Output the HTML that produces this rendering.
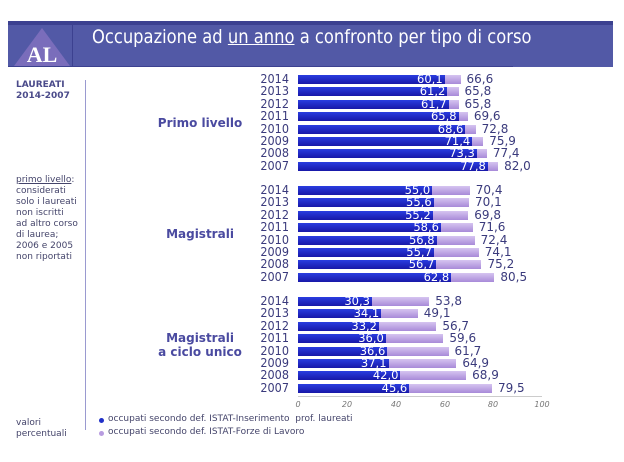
<!DOCTYPE html><html><head><meta charset="utf-8"><style>
body{margin:0;width:624px;height:462px;background:#fff;position:relative;overflow:hidden;font-family:"DejaVu Sans","Liberation Sans",sans-serif}
.hdr{position:absolute;left:8px;top:21px;width:505px;height:46px;background:#5259a6;border-top:4px solid #3c4190;border-bottom:1px solid #3c4190;box-sizing:border-box}
.hdr2{position:absolute;left:513px;top:21px;width:100px;height:46px;background:#5259a6;border-top:4px solid #3c4190;box-sizing:border-box}
.sep{position:absolute;left:72px;top:21px;width:1px;height:46px;background:#3c4190}
.title{position:absolute;left:92px;top:26px;color:#fff;font-size:19px;font-family:"DejaVu Sans",sans-serif;transform:scaleX(0.86);transform-origin:left;white-space:nowrap}
.yr{position:absolute;width:45px;left:244px;text-align:right;font-size:12.5px;color:#3a3a7c;line-height:12px;transform:scaleX(0.9);transform-origin:right}
.g{position:absolute;text-align:center;font-size:12px;color:#4a4aa0;font-weight:bold;width:120px;left:140px}
.b1{position:absolute;left:298px;height:9px;background:linear-gradient(180deg,#2a3de0,#1818a8)}
.b2{position:absolute;left:298px;height:9px;background:linear-gradient(180deg,#d6c4f0,#a88ad8)}
.v1{position:absolute;color:#fff;font-size:11.5px;line-height:9px;text-align:right}
.v2{position:absolute;color:#3a3a7c;font-size:12px;line-height:11px}
.side{position:absolute;left:16px;color:#44446a;font-size:9px;line-height:11px}
.tk{position:absolute;top:400px;font-size:8px;font-style:italic;color:#777;width:30px;text-align:center}
.lg{position:absolute;left:108px;font-size:9px;color:#44446a}
.dot{position:absolute;left:99px;width:5px;height:5px;border-radius:50%}
</style></head><body>
<div class="hdr"></div><div class="hdr2"></div><div class="sep"></div>
<svg style="position:absolute;left:14px;top:28px" width="56" height="38"><polygon points="28,0 56,38 0,38" fill="#7a6dbb"/><text x="28" y="34" text-anchor="middle" font-family="Liberation Serif" font-weight="bold" font-size="22" fill="#fff">AL</text></svg>
<div class="title">Occupazione ad <u>un anno</u> a confronto per tipo di corso</div>
<div style="position:absolute;left:85px;top:80px;width:1px;height:350px;background:#9a9ad0"></div>
<div class="side" style="top:80px;font-weight:bold;color:#4a4a8a">LAUREATI<br>2014-2007</div>
<div class="side" style="top:175px"><u>primo livello</u>:<br>considerati<br>solo i laureati<br>non iscritti<br>ad altro corso<br>di laurea;<br>2006 e 2005<br>non riportati</div>
<div class="side" style="top:418px">valori<br>percentuali</div>
<div class="g" style="top:116px">Primo livello</div>
<div class="g" style="top:227px">Magistrali</div>
<div class="g" style="top:331px;line-height:14px">Magistrali<br>a ciclo unico</div>
<div id="c"></div>
<div style="position:absolute;left:298px;top:396px;width:244px;height:1px;background:#ccc"></div>
<div class="tk" style="left:283px">0</div><div class="tk" style="left:332px">20</div><div class="tk" style="left:381px">40</div><div class="tk" style="left:430px">60</div><div class="tk" style="left:478px">80</div><div class="tk" style="left:527px">100</div>
<div class="dot" style="top:418px;background:#2030c8"></div><div class="lg" style="top:414px">occupati secondo def. ISTAT-Inserimento &nbsp;prof. laureati</div>
<div class="dot" style="top:431px;background:#b89ce0"></div><div class="lg" style="top:427px">occupati secondo def. ISTAT-Forze di Lavoro</div>
<script>
var d=[[[60.1,66.6],[61.2,65.8],[61.7,65.8],[65.8,69.6],[68.6,72.8],[71.4,75.9],[73.3,77.4],[77.8,82.0]],
[[55.0,70.4],[55.6,70.1],[55.2,69.8],[58.6,71.6],[56.8,72.4],[55.7,74.1],[56.7,75.2],[62.8,80.5]],
[[30.3,53.8],[34.1,49.1],[33.2,56.7],[36.0,59.6],[36.6,61.7],[37.1,64.9],[42.0,68.9],[45.6,79.5]]];
var tops=[75,186,297],yrs=[2014,2013,2012,2011,2010,2009,2008,2007],h="",s=2.44;
function f(v){return v.toFixed(1).replace('.',',')}
d.forEach(function(g,gi){g.forEach(function(r,i){var y=tops[gi]+i*12.4;
h+='<div class="yr" style="top:'+(y-2)+'px">'+yrs[i]+'</div>';
h+='<div class="b2" style="top:'+y+'px;width:'+(r[1]*s)+'px"></div>';
h+='<div class="b1" style="top:'+y+'px;width:'+(r[0]*s)+'px"></div>';
h+='<div class="v1" style="top:'+y+'px;left:'+(298+r[0]*s-40)+'px;width:38px">'+f(r[0])+'</div>';
h+='<div class="v2" style="top:'+(y-1)+'px;left:'+(298+r[1]*s+6)+'px">'+f(r[1])+'</div>';})});
document.getElementById('c').innerHTML=h;
</script>
</body></html>
